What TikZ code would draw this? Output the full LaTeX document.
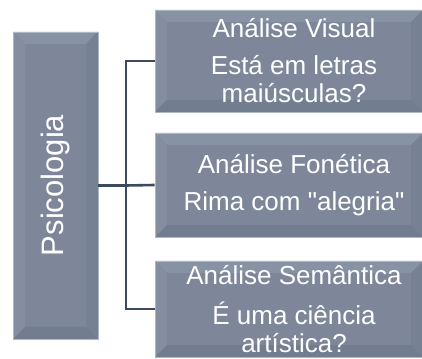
\documentclass[tikz,border=0pt]{standalone}
\usepackage{fontspec}
\setmainfont{Liberation Sans}
\usepackage{graphicx}
\usetikzlibrary{positioning, calc}

\definecolor{face}{HTML}{7D8799}
\definecolor{rim}{HTML}{AEB7C4}
\definecolor{bevtop}{HTML}{8892A5}
\definecolor{bevleft}{HTML}{848EA0}
\definecolor{bevbottom}{HTML}{737D90}
\definecolor{bevright}{HTML}{778194}
\definecolor{linkcol}{HTML}{3A4A5F}

\begin{document}
\begin{tikzpicture}[x=1pt, y=1pt,
  bevel/.style={path picture={
    \path (path picture bounding box.south west) coordinate (sw)
          (path picture bounding box.north east) coordinate (ne);
    \fill[bevtop] (sw|-ne) -- (ne) -- ([shift={(-12pt,-12pt)}]ne) -- ([shift={(12pt,-12pt)}]sw|-ne) -- cycle;
    \fill[bevleft] (sw|-ne) -- (sw) -- ([shift={(12pt,12pt)}]sw) -- ([shift={(12pt,-12pt)}]sw|-ne) -- cycle;
    \fill[bevbottom] (sw) -- (ne|-sw) -- ([shift={(-12pt,12pt)}]ne|-sw) -- ([shift={(12pt,12pt)}]sw) -- cycle;
    \fill[bevright] (ne|-sw) -- (ne) -- ([shift={(-12pt,-12pt)}]ne) -- ([shift={(-12pt,12pt)}]ne|-sw) -- cycle;}},
  block/.style={rectangle, draw=rim, line width=0.8pt, fill=face, bevel, text=white, inner sep=0pt, align=center, font=\fontsize{26}{28}\selectfont, minimum width=268pt},
  link/.style={-, draw=linkcol, line width=2.6pt}]
\useasboundingbox (0,0) rectangle (422,358);
\node (psi) [block, minimum width=85pt, minimum height=307pt, font=\fontsize{31}{33}\selectfont] at (55.5,172.5) {\rotatebox{90}{Psicologia}};
\node (b1) [block, minimum height=102pt] at (289,297) {\hspace*{10pt}Análise Visual\\[9pt]\hspace*{10pt}Está em letras\\\hspace*{10pt}maiúsculas?};
\node (b2) [block, minimum height=104pt] at (289,173) {\hspace*{10pt}Análise Fonética\\[9pt]\hspace*{10pt}Rima com \textquotedbl alegria\textquotedbl};
\node (b3) [block, minimum height=96pt] at (289,49) {\hspace*{10pt}Análise Semântica\\[12pt]\hspace*{10pt}É uma ciência\\\hspace*{10pt}artística?};
\coordinate (hub) at (126,172.5);
  \begin{scope}
    \draw [link] (psi.east) -- (hub);
    \draw [link] (b1.west) -| (hub);
    \draw [link] (b2.west) -- (hub);
    \draw [link] (b3.west) -| (hub);
  \end{scope}
\end{tikzpicture}
\end{document}
